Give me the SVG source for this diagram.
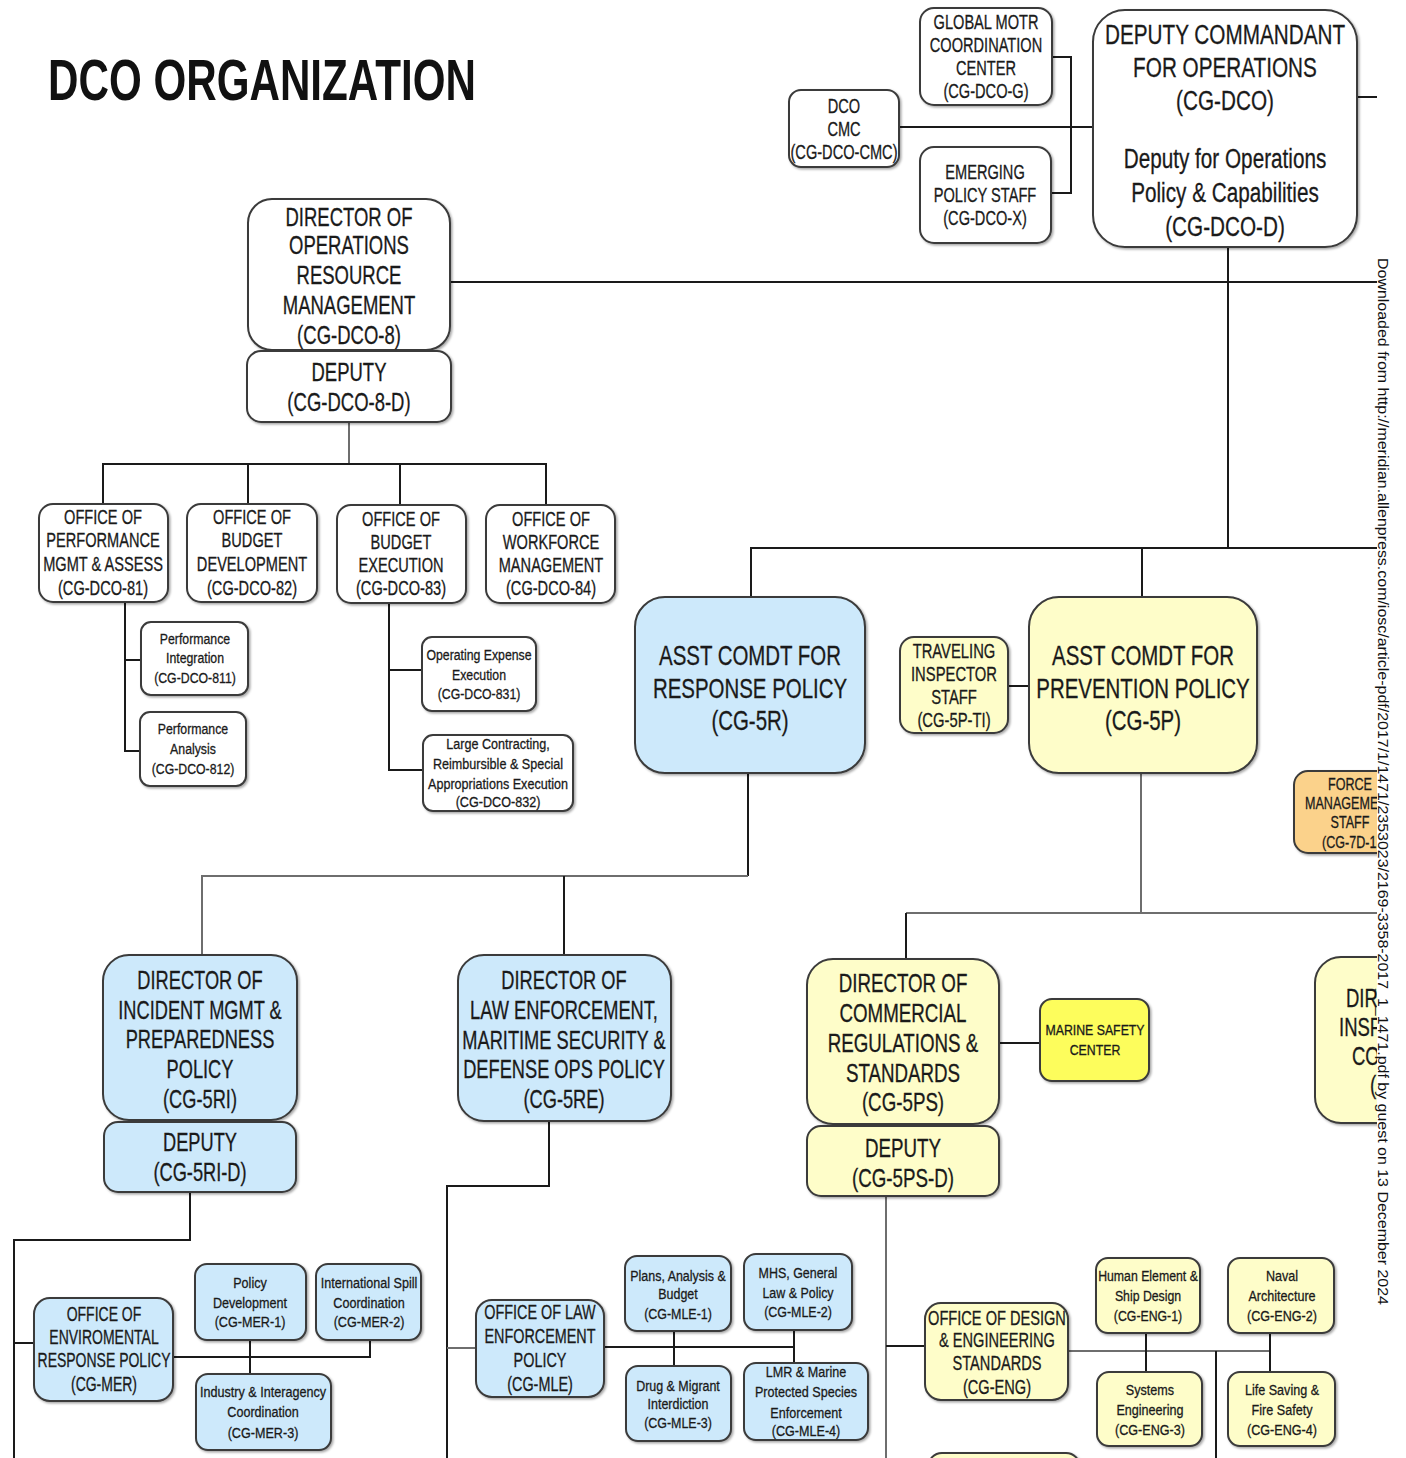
<svg xmlns="http://www.w3.org/2000/svg" width="1406" height="1458" viewBox="0 0 1406 1458">
<style>
.b{stroke:#3a3a3a;stroke-width:2;filter:url(#sh)}
.w{fill:#fff}.bl{fill:#cde9fb}.y{fill:#fefdc9}.o{fill:#fbd28b}.ms{fill:#fdfd5c}
.t{font-family:"Liberation Sans",Arial,sans-serif;text-anchor:middle;fill:#1a1a1a;stroke:#1a1a1a;stroke-width:0.3}
.s{text-anchor:start}
.c{fill:none;stroke:#1a1a1a;stroke-width:2}
.g{fill:none;stroke:#6e6e6e;stroke-width:2}
</style>
<defs>
<filter id="sh" x="-10%" y="-10%" width="125%" height="125%"><feDropShadow dx="1.5" dy="1.5" stdDeviation="1" flood-color="#000" flood-opacity="0.35"/></filter>
<clipPath id="clip"><rect x="0" y="0" width="1377" height="1458"/></clipPath>
</defs>
<rect width="1406" height="1458" fill="#fff"/>
<text transform="translate(48 0) scale(0.74 1)" x="0" y="100" font-family="Liberation Sans, Arial, sans-serif" font-weight="bold" font-size="57" fill="#111">DCO ORGANIZATION</text>
<g clip-path="url(#clip)">
<g id="connectors">
<path class="c" d="M1052 57H1071V193H1051"/>
<path class="c" d="M899 127H1093"/>
<path class="c" d="M1357 97H1380"/>
<path class="c" d="M1228 247V548"/>
<path class="c" d="M450 282H1380"/>
<path class="c" d="M751 597V548H1380"/>
<path class="c" d="M1142 548V597"/>
<path class="g" d="M349 422V464"/>
<path class="c" d="M103 504V464H546V504M248 464V504M400 464V505"/>
<path class="c" d="M125 602V751H140M125 660H141"/>
<path class="c" d="M389 603V770H423M389 670H422"/>
<path class="c" d="M1008 686H1029"/>
<path class="c" d="M748 773V876"/>
<path class="g" d="M202 955V876H748"/>
<path class="c" d="M564 876V955"/>
<path class="g" d="M1141 773V913"/>
<path class="g" d="M906 913H1380"/>
<path class="c" d="M906 959V913"/>
<path class="c" d="M999 1043H1040"/>
<path class="c" d="M190 1192V1240H14V1458M14 1343H34"/>
<path class="c" d="M173 1357H370V1340M250 1340V1374"/>
<path class="c" d="M549 1121V1186H447V1458"/>
<path class="g" d="M447 1348H476"/>
<path class="c" d="M604 1347H794M674 1331V1366M794 1330V1363"/>
<path class="g" d="M886 1196V1458"/>
<path class="c" d="M886 1346H925"/>
<path class="g" d="M1068 1351H1270"/>
<path class="c" d="M1146 1333V1372M1270 1333V1372M1216 1351V1458"/>
</g>

<g id="n-dco-g"><rect class="b w" x="920" y="8" width="132" height="97" rx="14"/>
<text class="t" font-size="20" transform="translate(986 0) scale(0.73 1)"><tspan x="0" y="29">GLOBAL MOTR</tspan><tspan x="0" y="52">COORDINATION</tspan><tspan x="0" y="75">CENTER</tspan><tspan x="0" y="98">(CG-DCO-G)</tspan></text></g>
<g id="n-dco-cmc"><rect class="b w" x="789" y="90" width="110" height="77" rx="12"/>
<text class="t" font-size="20" transform="translate(844 0) scale(0.73 1)"><tspan x="0" y="113">DCO</tspan><tspan x="0" y="136">CMC</tspan><tspan x="0" y="159">(CG-DCO-CMC)</tspan></text></g>
<g id="n-dco-x"><rect class="b w" x="920" y="147" width="131" height="96" rx="14"/>
<text class="t" font-size="20" transform="translate(985 0) scale(0.73 1)"><tspan x="0" y="179">EMERGING</tspan><tspan x="0" y="202">POLICY STAFF</tspan><tspan x="0" y="225">(CG-DCO-X)</tspan></text></g>
<g id="n-dco"><rect class="b w" x="1093" y="10" width="264" height="237" rx="32"/>
<text class="t" font-size="28" transform="translate(1225 0) scale(0.74 1)"><tspan x="0" y="44">DEPUTY COMMANDANT</tspan><tspan x="0" y="77">FOR OPERATIONS</tspan><tspan x="0" y="110">(CG-DCO)</tspan><tspan x="0" y="168">Deputy for Operations</tspan><tspan x="0" y="202">Policy &amp; Capabilities</tspan><tspan x="0" y="236">(CG-DCO-D)</tspan></text></g>

<g id="n-dco8"><rect class="b w" x="248" y="199" width="202" height="151" rx="24"/>
<text class="t" font-size="25" transform="translate(349 0) scale(0.74 1)"><tspan x="0" y="226">DIRECTOR OF</tspan><tspan x="0" y="254">OPERATIONS</tspan><tspan x="0" y="284">RESOURCE</tspan><tspan x="0" y="314">MANAGEMENT</tspan><tspan x="0" y="344">(CG-DCO-8)</tspan></text></g>
<g id="n-dco8d"><rect class="b w" x="247" y="351" width="204" height="71" rx="14"/>
<text class="t" font-size="25" transform="translate(349 0) scale(0.74 1)"><tspan x="0" y="381">DEPUTY</tspan><tspan x="0" y="411">(CG-DCO-8-D)</tspan></text></g>

<g id="n-81"><rect class="b w" x="39" y="504" width="129" height="98" rx="14"/>
<text class="t" font-size="20" transform="translate(103 0) scale(0.73 1)"><tspan x="0" y="524">OFFICE OF</tspan><tspan x="0" y="547">PERFORMANCE</tspan><tspan x="0" y="571">MGMT &amp; ASSESS</tspan><tspan x="0" y="595">(CG-DCO-81)</tspan></text></g>
<g id="n-82"><rect class="b w" x="187" y="504" width="130" height="98" rx="14"/>
<text class="t" font-size="20" transform="translate(252 0) scale(0.73 1)"><tspan x="0" y="524">OFFICE OF</tspan><tspan x="0" y="547">BUDGET</tspan><tspan x="0" y="571">DEVELOPMENT</tspan><tspan x="0" y="595">(CG-DCO-82)</tspan></text></g>
<g id="n-83"><rect class="b w" x="337" y="505" width="129" height="98" rx="14"/>
<text class="t" font-size="20" transform="translate(401 0) scale(0.73 1)"><tspan x="0" y="526">OFFICE OF</tspan><tspan x="0" y="549">BUDGET</tspan><tspan x="0" y="572">EXECUTION</tspan><tspan x="0" y="595">(CG-DCO-83)</tspan></text></g>
<g id="n-84"><rect class="b w" x="486" y="505" width="129" height="98" rx="14"/>
<text class="t" font-size="20" transform="translate(551 0) scale(0.73 1)"><tspan x="0" y="526">OFFICE OF</tspan><tspan x="0" y="549">WORKFORCE</tspan><tspan x="0" y="572">MANAGEMENT</tspan><tspan x="0" y="595">(CG-DCO-84)</tspan></text></g>

<g id="n-811"><rect class="b w" x="141" y="622" width="107" height="73" rx="10"/>
<text class="t" font-size="15" transform="translate(195 0) scale(0.82 1)"><tspan x="0" y="644">Performance</tspan><tspan x="0" y="663">Integration</tspan><tspan x="0" y="683">(CG-DCO-811)</tspan></text></g>
<g id="n-812"><rect class="b w" x="140" y="712" width="106" height="74" rx="10"/>
<text class="t" font-size="15" transform="translate(193 0) scale(0.82 1)"><tspan x="0" y="734">Performance</tspan><tspan x="0" y="754">Analysis</tspan><tspan x="0" y="774">(CG-DCO-812)</tspan></text></g>
<g id="n-831"><rect class="b w" x="422" y="637" width="114" height="74" rx="10"/>
<text class="t" font-size="15" transform="translate(479 0) scale(0.82 1)"><tspan x="0" y="660">Operating Expense</tspan><tspan x="0" y="680">Execution</tspan><tspan x="0" y="699">(CG-DCO-831)</tspan></text></g>
<g id="n-832"><rect class="b w" x="423" y="735" width="150" height="76" rx="10"/>
<text class="t" font-size="15" transform="translate(498 0) scale(0.84 1)"><tspan x="0" y="749">Large Contracting,</tspan><tspan x="0" y="769">Reimbursible &amp; Special</tspan><tspan x="0" y="789">Appropriations  Execution</tspan><tspan x="0" y="807">(CG-DCO-832)</tspan></text></g>

<g id="n-5r"><rect class="b bl" x="635" y="597" width="230" height="176" rx="30"/>
<text class="t" font-size="28" transform="translate(750 0) scale(0.73 1)"><tspan x="0" y="665">ASST COMDT FOR</tspan><tspan x="0" y="698">RESPONSE POLICY</tspan><tspan x="0" y="730">(CG-5R)</tspan></text></g>
<g id="n-5pti"><rect class="b y" x="900" y="637" width="108" height="96" rx="14"/>
<text class="t" font-size="20" transform="translate(954 0) scale(0.74 1)"><tspan x="0" y="658">TRAVELING</tspan><tspan x="0" y="681">INSPECTOR</tspan><tspan x="0" y="704">STAFF</tspan><tspan x="0" y="727">(CG-5P-TI)</tspan></text></g>
<g id="n-5p"><rect class="b y" x="1029" y="597" width="228" height="176" rx="30"/>
<text class="t" font-size="28" transform="translate(1143 0) scale(0.73 1)"><tspan x="0" y="665">ASST COMDT FOR</tspan><tspan x="0" y="698">PREVENTION POLICY</tspan><tspan x="0" y="730">(CG-5P)</tspan></text></g>
<g id="n-7d1"><rect class="b o" x="1294" y="771" width="120" height="82" rx="14"/>
<text class="t" font-size="17" transform="translate(1350 0) scale(0.74 1)"><tspan x="0" y="790">FORCE</tspan><tspan x="0" y="828">STAFF</tspan></text>
<text class="t s" font-size="17" transform="translate(1305 0) scale(0.74 1)"><tspan x="0" y="809">MANAGEME</tspan></text>
<text class="t s" font-size="17" transform="translate(1322 0) scale(0.74 1)"><tspan x="0" y="848">(CG-7D-1</tspan></text></g>

<g id="n-5ri"><rect class="b bl" x="103" y="955" width="194" height="165" rx="26"/>
<text class="t" font-size="25" transform="translate(200 0) scale(0.73 1)"><tspan x="0" y="989">DIRECTOR OF</tspan><tspan x="0" y="1019">INCIDENT MGMT &amp;</tspan><tspan x="0" y="1048">PREPAREDNESS</tspan><tspan x="0" y="1078">POLICY</tspan><tspan x="0" y="1108">(CG-5RI)</tspan></text></g>
<g id="n-5rid"><rect class="b bl" x="104" y="1122" width="192" height="70" rx="14"/>
<text class="t" font-size="25" transform="translate(200 0) scale(0.73 1)"><tspan x="0" y="1151">DEPUTY</tspan><tspan x="0" y="1181">(CG-5RI-D)</tspan></text></g>
<g id="n-5re"><rect class="b bl" x="458" y="955" width="213" height="166" rx="26"/>
<text class="t" font-size="25" transform="translate(564 0) scale(0.73 1)"><tspan x="0" y="989">DIRECTOR OF</tspan><tspan x="0" y="1019">LAW ENFORCEMENT,</tspan><tspan x="0" y="1049">MARITIME SECURITY &amp;</tspan><tspan x="0" y="1078">DEFENSE OPS POLICY</tspan><tspan x="0" y="1108">(CG-5RE)</tspan></text></g>

<g id="n-5ps"><rect class="b y" x="807" y="959" width="192" height="165" rx="26"/>
<text class="t" font-size="25" transform="translate(903 0) scale(0.75 1)"><tspan x="0" y="992">DIRECTOR OF</tspan><tspan x="0" y="1022">COMMERCIAL</tspan><tspan x="0" y="1052">REGULATIONS &amp;</tspan><tspan x="0" y="1082">STANDARDS</tspan><tspan x="0" y="1111">(CG-5PS)</tspan></text></g>
<g id="n-5psd"><rect class="b y" x="807" y="1126" width="192" height="70" rx="14"/>
<text class="t" font-size="25" transform="translate(903 0) scale(0.75 1)"><tspan x="0" y="1157">DEPUTY</tspan><tspan x="0" y="1187">(CG-5PS-D)</tspan></text></g>
<g id="n-msc"><rect class="b ms" x="1040" y="999" width="109" height="82" rx="12"/>
<text class="t" font-size="14" transform="translate(1095 0) scale(0.88 1)"><tspan x="0" y="1035">MARINE SAFETY</tspan><tspan x="0" y="1055">CENTER</tspan></text></g>
<g id="n-5pc"><rect class="b y" x="1315" y="957" width="110" height="166" rx="26"/>
<text class="t s" font-size="25" transform="translate(1346 0) scale(0.74 1)"><tspan x="0" y="1007">DIR</tspan></text>
<text class="t s" font-size="25" transform="translate(1339 0) scale(0.74 1)"><tspan x="0" y="1036">INSP</tspan></text>
<text class="t s" font-size="25" transform="translate(1352 0) scale(0.74 1)"><tspan x="0" y="1065">CO</tspan></text>
<text class="t s" font-size="25" transform="translate(1370 0) scale(0.74 1)"><tspan x="0" y="1094">(</tspan></text></g>

<g id="n-mer"><rect class="b bl" x="34" y="1298" width="139" height="103" rx="16"/>
<text class="t" font-size="20" transform="translate(104 0) scale(0.70 1)"><tspan x="0" y="1321">OFFICE OF</tspan><tspan x="0" y="1344">ENVIROMENTAL</tspan><tspan x="0" y="1367">RESPONSE POLICY</tspan><tspan x="0" y="1391">(CG-MER)</tspan></text></g>
<g id="n-mer1"><rect class="b bl" x="195" y="1264" width="111" height="76" rx="12"/>
<text class="t" font-size="15" transform="translate(250 0) scale(0.84 1)"><tspan x="0" y="1288">Policy</tspan><tspan x="0" y="1308">Development</tspan><tspan x="0" y="1327">(CG-MER-1)</tspan></text></g>
<g id="n-mer2"><rect class="b bl" x="316" y="1264" width="105" height="76" rx="12"/>
<text class="t" font-size="15" transform="translate(369 0) scale(0.84 1)"><tspan x="0" y="1288">International Spill</tspan><tspan x="0" y="1308">Coordination</tspan><tspan x="0" y="1327">(CG-MER-2)</tspan></text></g>
<g id="n-mer3"><rect class="b bl" x="196" y="1374" width="135" height="76" rx="12"/>
<text class="t" font-size="15" transform="translate(263 0) scale(0.84 1)"><tspan x="0" y="1397">Industry &amp; Interagency</tspan><tspan x="0" y="1417">Coordination</tspan><tspan x="0" y="1438">(CG-MER-3)</tspan></text></g>

<g id="n-mle"><rect class="b bl" x="476" y="1300" width="128" height="97" rx="16"/>
<text class="t" font-size="20" transform="translate(540 0) scale(0.72 1)"><tspan x="0" y="1319">OFFICE OF LAW</tspan><tspan x="0" y="1343">ENFORCEMENT</tspan><tspan x="0" y="1367">POLICY</tspan><tspan x="0" y="1391">(CG-MLE)</tspan></text></g>
<g id="n-mle1"><rect class="b bl" x="625" y="1256" width="106" height="75" rx="12"/>
<text class="t" font-size="15" transform="translate(678 0) scale(0.83 1)"><tspan x="0" y="1281">Plans, Analysis &amp;</tspan><tspan x="0" y="1299">Budget</tspan><tspan x="0" y="1319">(CG-MLE-1)</tspan></text></g>
<g id="n-mle2"><rect class="b bl" x="744" y="1254" width="108" height="76" rx="12"/>
<text class="t" font-size="15" transform="translate(798 0) scale(0.83 1)"><tspan x="0" y="1278">MHS, General</tspan><tspan x="0" y="1298">Law &amp; Policy</tspan><tspan x="0" y="1317">(CG-MLE-2)</tspan></text></g>
<g id="n-mle3"><rect class="b bl" x="626" y="1366" width="105" height="75" rx="12"/>
<text class="t" font-size="15" transform="translate(678 0) scale(0.83 1)"><tspan x="0" y="1391">Drug &amp; Migrant</tspan><tspan x="0" y="1409">Interdiction</tspan><tspan x="0" y="1428">(CG-MLE-3)</tspan></text></g>
<g id="n-mle4"><rect class="b bl" x="744" y="1363" width="124" height="77" rx="12"/>
<text class="t" font-size="15" transform="translate(806 0) scale(0.84 1)"><tspan x="0" y="1377">LMR &amp; Marine</tspan><tspan x="0" y="1397">Protected Species</tspan><tspan x="0" y="1418">Enforcement</tspan><tspan x="0" y="1436">(CG-MLE-4)</tspan></text></g>

<g id="n-eng"><rect class="b y" x="925" y="1303" width="143" height="97" rx="16"/>
<text class="t" font-size="20" transform="translate(997 0) scale(0.73 1)"><tspan x="0" y="1325">OFFICE OF DESIGN</tspan><tspan x="0" y="1347">&amp; ENGINEERING</tspan><tspan x="0" y="1370">STANDARDS</tspan><tspan x="0" y="1394">(CG-ENG)</tspan></text></g>
<g id="n-eng1"><rect class="b y" x="1096" y="1258" width="104" height="75" rx="12"/>
<text class="t" font-size="15" transform="translate(1148 0) scale(0.82 1)"><tspan x="0" y="1281">Human Element &amp;</tspan><tspan x="0" y="1301">Ship Design</tspan><tspan x="0" y="1321">(CG-ENG-1)</tspan></text></g>
<g id="n-eng2"><rect class="b y" x="1228" y="1258" width="106" height="75" rx="12"/>
<text class="t" font-size="15" transform="translate(1282 0) scale(0.84 1)"><tspan x="0" y="1281">Naval</tspan><tspan x="0" y="1301">Architecture</tspan><tspan x="0" y="1321">(CG-ENG-2)</tspan></text></g>
<g id="n-eng3"><rect class="b y" x="1097" y="1372" width="105" height="74" rx="12"/>
<text class="t" font-size="15" transform="translate(1150 0) scale(0.84 1)"><tspan x="0" y="1395">Systems</tspan><tspan x="0" y="1415">Engineering</tspan><tspan x="0" y="1435">(CG-ENG-3)</tspan></text></g>
<g id="n-eng4"><rect class="b y" x="1228" y="1372" width="107" height="74" rx="12"/>
<text class="t" font-size="15" transform="translate(1282 0) scale(0.84 1)"><tspan x="0" y="1395">Life Saving &amp;</tspan><tspan x="0" y="1415">Fire Safety</tspan><tspan x="0" y="1435">(CG-ENG-4)</tspan></text></g>
<g id="n-bottom"><rect class="b y" x="928" y="1453" width="152" height="30" rx="14"/></g>
</g>
<text transform="translate(1378 258) rotate(90)" x="0" y="0" font-family="Liberation Sans, Arial, sans-serif" font-size="15" fill="#111" textLength="1047" lengthAdjust="spacingAndGlyphs">Downloaded from http://meridian.allenpress.com/iosc/article-pdf/2017/1/1471/2353023/2169-3358-2017_1_1471.pdf by guest on 13 December 2024</text>
</svg>
